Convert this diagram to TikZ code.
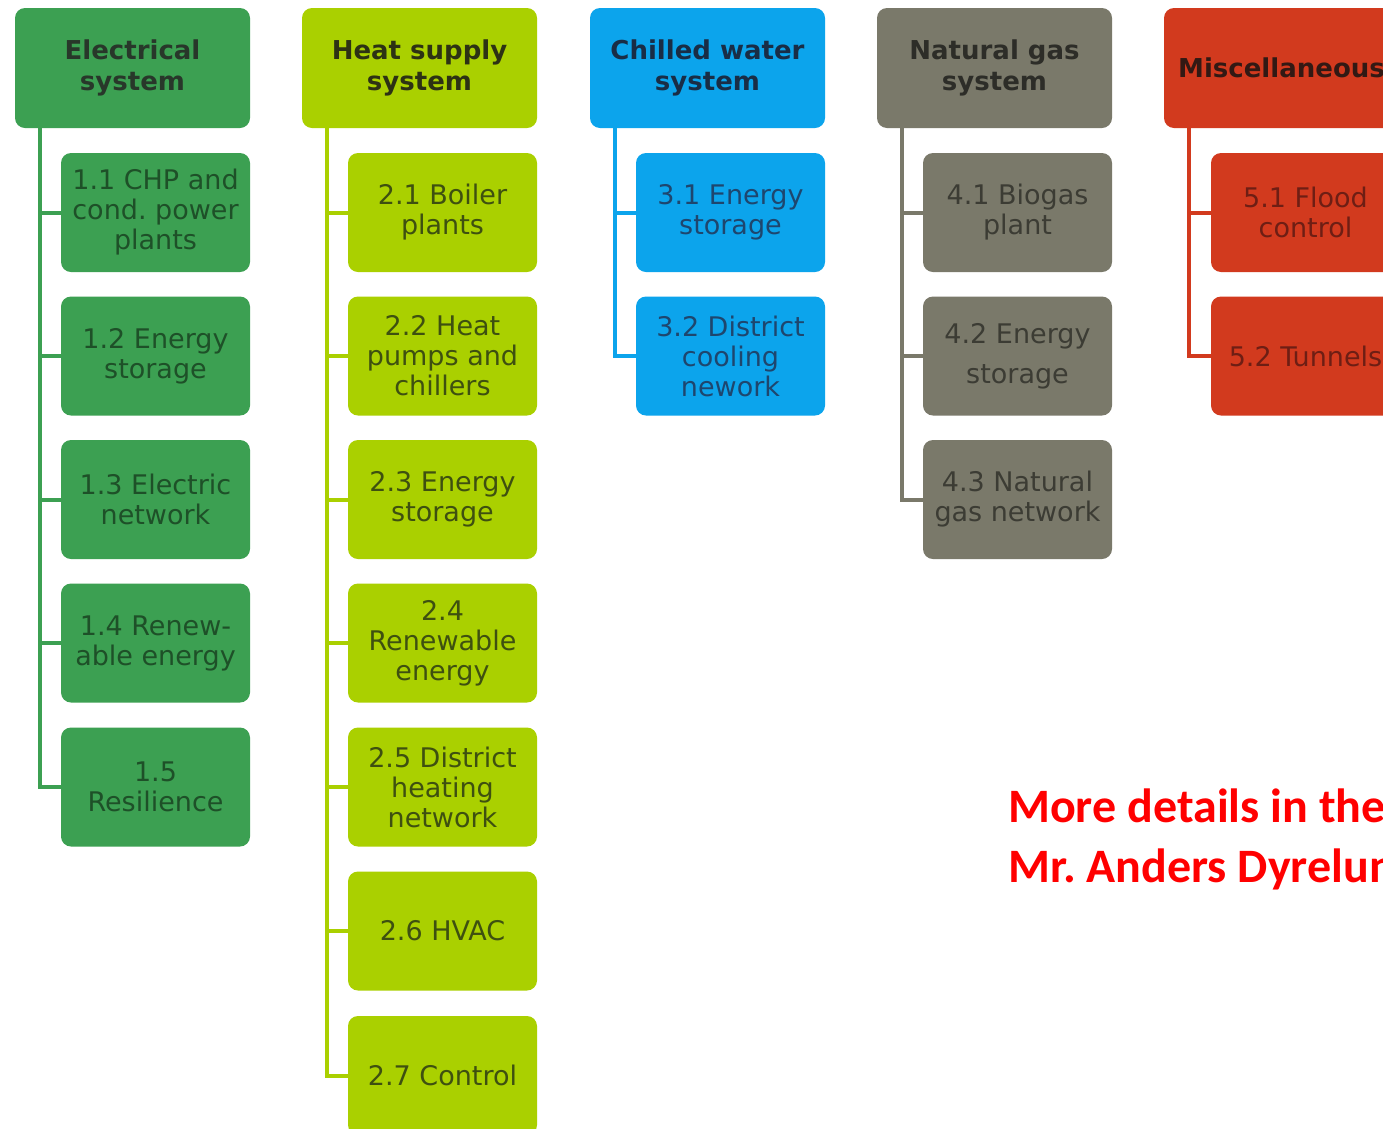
\documentclass[tikz,border=0pt]{standalone}
\usepackage{fontspec}
\setmainfont{DejaVu Sans}
\newfontfamily\redfont{Carlito}
\definecolor{cA}{RGB}{60,160,82}
\definecolor{cB}{RGB}{170,208,0}
\definecolor{cC}{RGB}{12,164,236}
\definecolor{cD}{RGB}{122,121,106}
\definecolor{cE}{RGB}{210,58,30}
\definecolor{tA}{RGB}{30,80,40}
\definecolor{tB}{RGB}{62,80,16}
\definecolor{tC}{RGB}{30,70,110}
\definecolor{tD}{RGB}{60,60,52}
\definecolor{tE}{RGB}{110,30,20}
\definecolor{hA}{RGB}{40,55,42}
\definecolor{hB}{RGB}{45,50,20}
\definecolor{hC}{RGB}{25,45,70}
\definecolor{hD}{RGB}{45,45,40}
\definecolor{hE}{RGB}{50,25,20}
\frenchspacing
\begin{document}
\begin{tikzpicture}[x=1pt,y=-1pt,
  hdr/.style={rounded corners=10pt, minimum width=235pt, minimum height=120pt, inner sep=0pt,
    align=center, font=\fontsize{26}{31}\selectfont\bfseries},
  sub/.style={rounded corners=10pt, minimum width=189pt, minimum height=119pt, inner sep=0pt,
    align=center, font=\fontsize{27}{30}\selectfont},
  link/.style={line width=4pt}]
\useasboundingbox (0,0) rectangle (1383,1128);
\clip (0,0) rectangle (1383,1128);
\fill[white] (0,0) rectangle (1383,1128);

% column 1
\node[hdr, fill=cA, text=hA] (h1) at (132.5,68) {Electrical\\system};
\node[sub, fill=cA, text=tA] (c11) at (155.5,212.5) {1.1 CHP and\\cond. power\\plants};
\node[sub, fill=cA, text=tA] (c12) at (155.5,356) {1.2 Energy\\storage};
\node[sub, fill=cA, text=tA] (c13) at (155.5,499.5) {1.3 Electric\\network};
\node[sub, fill=cA, text=tA] (c14) at (155.5,643) {1.4 Renew-\\able energy};
\node[sub, fill=cA, text=tA] (c15) at (155.5,787) {1.5\\Resilience};
\foreach \c in {c11,c12,c13,c14,c15}
  \draw[link, draw=cA] ([xshift=25pt]h1.south west) |- (\c.west);

% column 2
\node[hdr, fill=cB, text=hB] (h2) at (419.5,68) {Heat supply\\system};
\node[sub, fill=cB, text=tB] (c21) at (442.5,212.5) {2.1 Boiler\\plants};
\node[sub, fill=cB, text=tB] (c22) at (442.5,356) {2.2 Heat\\pumps and\\chillers};
\node[sub, fill=cB, text=tB] (c23) at (442.5,499.5) {2.3 Energy\\storage};
\node[sub, fill=cB, text=tB] (c24) at (442.5,643) {2.4\\Renewable\\energy};
\node[sub, fill=cB, text=tB] (c25) at (442.5,787) {2.5 District\\heating\\network};
\node[sub, fill=cB, text=tB] (c26) at (442.5,931) {2.6 HVAC};
\node[sub, fill=cB, text=tB] (c27) at (442.5,1075.5) {2.7 Control};
\foreach \c in {c21,c22,c23,c24,c25,c26,c27}
  \draw[link, draw=cB] ([xshift=25pt]h2.south west) |- (\c.west);

% column 3
\node[hdr, fill=cC, text=hC] (h3) at (707.5,68) {Chilled water\\system};
\node[sub, fill=cC, text=tC] (c31) at (730.5,212.5) {3.1 Energy\\storage};
\node[sub, fill=cC, text=tC] (c32) at (730.5,356) {3.2 District\\cooling\\nework};
\foreach \c in {c31,c32}
  \draw[link, draw=cC] ([xshift=25pt]h3.south west) |- (\c.west);

% column 4
\node[hdr, fill=cD, text=hD] (h4) at (994.5,68) {Natural gas\\system};
\node[sub, fill=cD, text=tD] (c41) at (1017.5,212.5) {4.1 Biogas\\plant};
\node[sub, fill=cD, text=tD] (c42) at (1017.5,356) {4.2 Energy\\[10pt]storage};
\node[sub, fill=cD, text=tD] (c43) at (1017.5,499.5) {4.3 Natural\\gas network};
\foreach \c in {c41,c42,c43}
  \draw[link, draw=cD] ([xshift=25pt]h4.south west) |- (\c.west);

% column 5
\node[hdr, fill=cE, text=hE] (h5) at (1281.5,68) {Miscellaneous};
\node[sub, fill=cE, text=tE] (c51) at (1305.5,212.5) {5.1 Flood\\control};
\node[sub, fill=cE, text=tE] (c52) at (1305.5,356) {5.2 Tunnels};
\foreach \c in {c51,c52}
  \draw[link, draw=cE] ([xshift=25pt]h5.south west) |- (\c.west);

% note
\node[anchor=base west, inner sep=0pt, text=red, align=left,
  font=\redfont\fontsize{48}{60}\selectfont\bfseries] (note) at (1008,882)
  {More details in the\\Mr. Anders Dyrelund};
\end{tikzpicture}
\end{document}
